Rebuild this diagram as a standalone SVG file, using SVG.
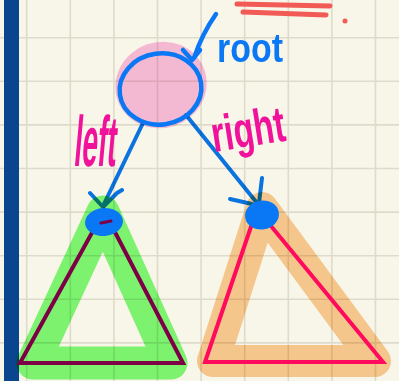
<svg xmlns="http://www.w3.org/2000/svg" width="399" height="381" viewBox="0 0 399 381">
<style>
.grid line{stroke:#dfdbcb;stroke-width:1.6}
.mul{mix-blend-mode:multiply}
.blue{stroke:#0a78f5;fill:none;stroke-linecap:round;stroke-linejoin:round}
.hl{fill:none;stroke-linejoin:round;stroke-linecap:round;mix-blend-mode:multiply}
.tri{fill:none;stroke-width:4;stroke-linejoin:miter;stroke-linecap:round}
.hand{font-family:"Liberation Sans",Arial,sans-serif;font-weight:bold}
</style>
<rect width="399" height="381" fill="#f8f5e9"/>
<g class="grid">
<line x1="26.7" y1="0" x2="26.7" y2="381"/><line x1="70.3" y1="0" x2="70.3" y2="381"/><line x1="113.9" y1="0" x2="113.9" y2="381"/><line x1="157.5" y1="0" x2="157.5" y2="381"/><line x1="201.1" y1="0" x2="201.1" y2="381"/><line x1="244.7" y1="0" x2="244.7" y2="381"/><line x1="288.3" y1="0" x2="288.3" y2="381"/><line x1="331.9" y1="0" x2="331.9" y2="381"/><line x1="375.5" y1="0" x2="375.5" y2="381"/>
<line x1="0" y1="37.7" x2="399" y2="37.7"/><line x1="0" y1="81.3" x2="399" y2="81.3"/><line x1="0" y1="124.9" x2="399" y2="124.9"/><line x1="0" y1="168.5" x2="399" y2="168.5"/><line x1="0" y1="212.1" x2="399" y2="212.1"/><line x1="0" y1="255.7" x2="399" y2="255.7"/><line x1="0" y1="299.3" x2="399" y2="299.3"/><line x1="0" y1="342.9" x2="399" y2="342.9"/>
</g>
<rect x="4" y="0" width="15" height="381" fill="#0a468d"/>
<g id="scribble" stroke="#f25a55" stroke-width="5" stroke-linecap="round" fill="none">
<path d="M237,4 L330,6"/>
<path d="M243,12 L326,15"/>
<circle cx="345" cy="21" r="2.5" fill="#f25a55" stroke="none"/>
</g>
<g id="connectors">
<g class="blue mul" stroke-width="4">
<path d="M143,123 L103,206"/>
<path d="M90,193 L103,207 L117,193 L122,190"/>
<path d="M186,115 L257,203"/>
<path d="M230,199 L252,204"/>
<path d="M262,178 L259,203"/>
</g>
<text class="hand" fill="#f0129a" font-size="46" textLength="42" lengthAdjust="spacingAndGlyphs" transform="translate(73,166) scale(1,1.55) skewX(-8)">left</text>
<text class="hand" fill="#f0129a" font-size="36" textLength="74" lengthAdjust="spacingAndGlyphs" transform="translate(214,152) rotate(-9) scale(1,1.4)">right</text>
</g>
<g id="root">
<ellipse cx="161" cy="85" rx="46" ry="43" transform="rotate(-20 161 85)" fill="#fbc1e6" class="mul"/>
<ellipse cx="160.5" cy="89" rx="41" ry="35.5" transform="rotate(-8 160.5 89)" class="blue" stroke-width="4.5"/>
<path d="M216,14 Q202,34 194,58 M183,50 L192,60 L200,50" class="blue" stroke-width="4.5"/>
<text class="hand" fill="#0a78f5" font-size="40" textLength="66" lengthAdjust="spacingAndGlyphs" x="217" y="62">root</text>
</g>
<g id="left-subtree">
<path d="M103,212 L33,363 L171,363 Z" class="hl" stroke="#7ffc79" stroke-width="33"/>
<path d="M104,211 L20,363 L183,363 Z" class="tri" stroke="#7d0046"/>
<ellipse cx="104" cy="222" rx="19" ry="14" transform="rotate(-5 104 222)" fill="#0a78f5"/>
<path d="M101,223 L111,221" stroke="#7d0046" stroke-width="3" stroke-linecap="round"/>
</g>
<g id="right-subtree">
<path d="M262,208 L213,361 L375,361 Z" class="hl" stroke="#fcce98" stroke-width="32"/>
<path d="M257,209 L205,362 L383,362 Z" class="tri" stroke="#ff0a5c"/>
<ellipse cx="262" cy="215" rx="17" ry="14.5" transform="rotate(-10 262 215)" fill="#0a78f5"/>
</g>
</svg>
